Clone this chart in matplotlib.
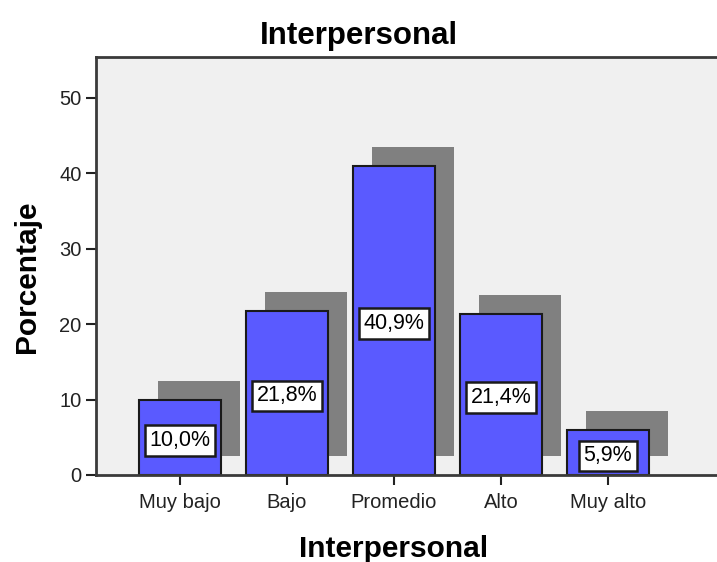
import matplotlib
matplotlib.use("Agg")
import matplotlib.pyplot as plt
import matplotlib.transforms as mtransforms


categories = ["Muy bajo", "Bajo", "Promedio", "Alto", "Muy alto"]
percentages = [10.0, 21.8, 40.9, 21.4, 5.9]
value_labels = ["10,0%", "21,8%", "40,9%", "21,4%", "5,9%"]
y_ticks = [0, 10, 20, 30, 40, 50]

BAR_COLOR = "#5a5aff"
SHADOW_COLOR = "#808080"
BG_COLOR = "#f0f0f0"
EDGE_COLOR = "#1a1a1a"


def main():
    plt.rcParams["font.family"] = ["Liberation Sans", "DejaVu Sans"]

    fig = plt.figure(figsize=(7.17, 5.62), dpi=100)
    ax = fig.add_axes([96 / 717, 1 - 475 / 562, 1 - 96 / 717, (475 - 57) / 562])
    ax.set_facecolor(BG_COLOR)

    x = list(range(len(categories)))
    width = 0.76

    # shadow bars: same bars shifted right and up by a fixed pixel offset
    shadow_tf = ax.transData + mtransforms.ScaledTranslation(
        19 / 100, 19 / 100, fig.dpi_scale_trans
    )
    shadows = ax.bar(x, percentages, width=width, color=SHADOW_COLOR,
                     linewidth=0, zorder=1)
    for patch in shadows:
        patch.set_transform(shadow_tf)
        patch.set_clip_on(True)

    ax.bar(x, percentages, width=width, color=BAR_COLOR,
           edgecolor=EDGE_COLOR, linewidth=1.5, zorder=2)

    for xi, val, lab in zip(x, percentages, value_labels):
        ax.text(xi, val / 2 - 0.4, lab, ha="center", va="center", fontsize=15.5,
                zorder=3,
                bbox=dict(boxstyle="square,pad=0.22", facecolor="white",
                          edgecolor=EDGE_COLOR, linewidth=1.8))

    ax.set_xlim(-0.785, 5.02)
    ax.set_ylim(0, 55.4)
    ax.set_yticks(y_ticks)
    ax.set_xticks(x)
    ax.set_xticklabels(categories)
    ax.tick_params(axis="both", labelsize=14.5, colors="#222222",
                   length=7, width=1.5, direction="out")
    ax.tick_params(axis="x", pad=6)

    for side in ["left", "top", "bottom"]:
        ax.spines[side].set_color("#3a3a3a")
        ax.spines[side].set_linewidth(2)
    ax.spines["right"].set_visible(False)

    fig.text(0.5, 1 - 36 / 562, "Interpersonal", fontsize=22.5,
             fontweight="bold", ha="center", va="center")
    ax.set_ylabel("Porcentaje", fontsize=21.5, fontweight="bold")
    ax.yaxis.set_label_coords(-(96 - 27) / 621, (475 - 277) / 418)
    ax.yaxis.label.set_va("center")
    ax.set_xlabel("Interpersonal", fontsize=21.5, fontweight="bold")
    ax.xaxis.set_label_coords((394 - 96) / 621, -(549 - 475) / 418)
    ax.xaxis.label.set_va("center")

    fig.savefig("out.png", dpi=100)
    plt.close(fig)


if __name__ == "__main__":
    main()
